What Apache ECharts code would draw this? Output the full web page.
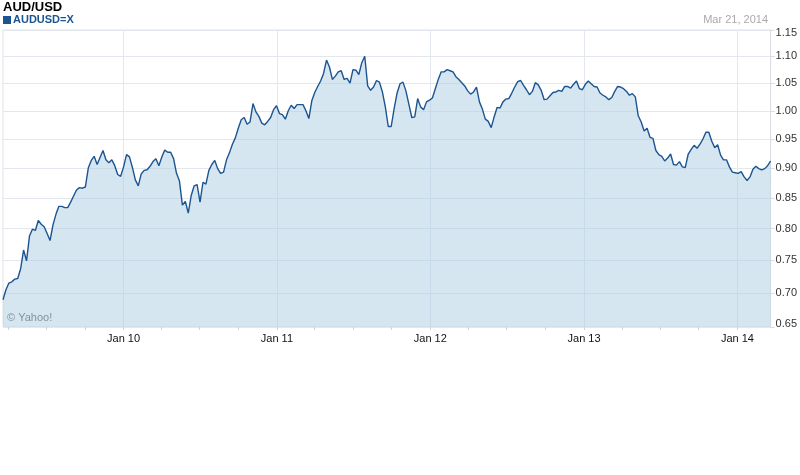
<!DOCTYPE html>
<html><head><meta charset="utf-8">
<script src="https://cdn.jsdelivr.net/npm/echarts@6/dist/echarts.min.js"></script>
<style>html,body{margin:0;padding:0;background:#fff}#c{width:800px;height:475px}</style>
</head><body><div id="c"></div>
<script>
// Weekly closes of AUD/USD, first week = 2009-03-20, last = 2014-03-21
const startYear = 2009, startMonth = 2, startDay = 20; // 20 Mar 2009
const stepDays = 7;
const rate = [
0.690,0.705,0.715,0.717,0.721,0.722,0.737,0.766,0.749,0.788,
0.799,0.797,0.813,0.807,0.803,0.792,0.781,0.806,0.823,0.836,
0.836,0.834,0.834,0.843,0.853,0.863,0.867,0.866,0.868,0.900,
0.913,0.920,0.906,0.918,0.930,0.914,0.909,0.914,0.904,0.889,
0.886,0.902,0.923,0.919,0.901,0.880,0.870,0.890,0.896,0.897,
0.903,0.911,0.916,0.904,0.919,0.931,0.927,0.927,0.916,0.891,
0.878,0.838,0.844,0.825,0.854,0.870,0.872,
0.843,0.876,0.873,0.896,0.906,0.913,0.899,0.891,0.893,0.914,
0.926,0.941,0.952,0.969,0.984,0.988,0.976,0.980,1.013,0.998,
0.990,0.978,0.975,0.981,0.988,1.002,1.009,0.995,0.993,0.985,
1.000,1.010,1.004,1.011,1.011,1.011,1.000,0.986,1.018,1.033,
1.044,1.054,1.068,1.093,1.080,1.057,1.063,1.071,1.073,1.057,
1.059,1.050,1.075,1.074,1.066,1.088,1.100,1.045,1.037,1.043,
1.055,
1.052,1.034,1.007,0.972,0.972,1.004,1.032,1.049,1.052,1.036,
1.012,0.988,0.989,1.022,1.007,1.002,1.016,1.019,1.023,1.040,
1.057,1.071,1.071,1.075,1.073,1.071,1.062,1.057,1.051,1.045,
1.036,1.030,1.034,1.043,1.016,1.003,0.985,0.981,0.970,0.989,
1.006,1.005,1.016,1.021,1.022,1.032,1.043,1.053,1.055,1.046,
1.038,1.029,1.035,1.051,1.047,1.037,1.020,1.021,1.027,1.033,
1.034,1.037,1.035,1.044,
1.044,1.041,1.048,1.054,1.040,1.038,1.048,1.054,1.049,1.044,
1.043,1.032,1.028,1.025,1.020,1.024,1.035,1.044,1.043,1.040,
1.035,1.028,1.031,1.025,0.991,0.980,0.964,0.969,0.953,0.951,
0.930,0.923,0.920,0.912,0.917,0.924,0.906,0.905,0.911,0.902,
0.901,0.924,0.932,0.939,0.934,0.941,0.950,0.962,0.962,0.946,
0.935,0.940,0.922,0.914,0.914,0.902,0.893,0.892,0.891,0.894,
0.885,0.879,0.885,0.898,0.903,0.899,0.897,0.899,0.904,0.912
];
const labelYears = [2010, 2011, 2012, 2013, 2014];
const yTicks = [0.65, 0.70, 0.75, 0.80, 0.85, 0.90, 0.95, 1.00, 1.05, 1.10, 1.15];
const titleText = 'AUD/USD';
const seriesName = 'AUDUSD=X';
const dateText = 'Mar 21, 2014';
const creditText = '\u00A9 Yahoo!';

// The reference price axis is compressed towards the top (square-root-like spacing)
const fwd = v => Math.sqrt(v);
const inv = s => s * s;

const data = rate.map((v, i) => [new Date(startYear, startMonth, startDay + i * stepDays).getTime(), fwd(v)]);
const xMin = data[0][0], xMax = data[data.length - 1][0];
const janTicks = labelYears.map(y => new Date(y, 0, 1).getTime());
const quarterTicks = [];
for (let y = 2009; y <= 2014; y++) for (let m = 0; m < 12; m += 3) {
  const t = new Date(y, m, 1).getTime();
  if (t >= xMin && t <= xMax) quarterTicks.push(t);
}
const yTickPos = yTicks.map(fwd);
const FONT = '"Liberation Sans", Arial, sans-serif';
const labelStyle = {color: '#333', fontFamily: FONT, fontSize: 11};
const topLabel = yTicks[yTicks.length - 1].toFixed(2);
const bottomLabel = yTicks[0].toFixed(2);

const chart = echarts.init(document.getElementById('c'), null, {renderer: 'canvas'});
chart.setOption({
  animation: false,
  backgroundColor: '#ffffff',
  grid: {left: 3, right: 28, top: 30, bottom: 148, show: true, borderColor: '#dde1e7', borderWidth: 1},
  xAxis: [{
    type: 'value', min: xMin, max: xMax,
    axisLine: {show: false},
    axisTick: {show: true, length: 3, lineStyle: {color: '#cfd3d8'}, customValues: quarterTicks},
    axisLabel: {customValues: janTicks, color: '#111', fontFamily: FONT, fontSize: 11, margin: 6,
      formatter: v => 'Jan ' + String(new Date(v).getFullYear()).slice(2)},
    splitLine: {show: false}
  }, {
    type: 'value', min: xMin, max: xMax, position: 'bottom',
    axisLine: {show: false},
    axisTick: {show: false, customValues: janTicks},
    axisLabel: {show: false, customValues: janTicks},
    splitLine: {show: true, lineStyle: {color: '#e3e7ee', width: 1}}
  }],
  yAxis: {
    type: 'value', position: 'right', min: fwd(yTicks[0]), max: fwd(yTicks[yTicks.length - 1]),
    axisLine: {show: true, lineStyle: {color: '#d9dde2'}},
    axisTick: {show: true, length: 4, lineStyle: {color: '#d9dde2'}, customValues: yTickPos},
    axisLabel: Object.assign({customValues: yTickPos, margin: 5,
      formatter: s => {
        const t = inv(s).toFixed(2);
        if (t === topLabel) return '{t|' + t + '}';
        if (t === bottomLabel) return '{b|' + t + '}';
        return t;
      },
      rich: {
        t: Object.assign({padding: [6, 0, 0, 0]}, labelStyle),
        b: Object.assign({padding: [0, 0, 6, 0]}, labelStyle)
      }}, labelStyle),
    splitLine: {show: true, lineStyle: {color: '#e3e7ee', width: 1}}
  },
  series: [{
    type: 'line', name: seriesName, data: data, xAxisIndex: 0,
    showSymbol: false, symbol: 'none',
    lineStyle: {color: '#1b5490', width: 1.4},
    areaStyle: {color: 'rgb(173,205,227)', opacity: 0.5, origin: 'start'}
  }],
  graphic: [
    {type: 'text', left: 3, top: 1, style: {text: titleText, fill: '#000', font: 'bold 13px ' + FONT}},
    {type: 'rect', left: 3, top: 16, shape: {width: 8, height: 8}, style: {fill: '#1b5490'}},
    {type: 'text', left: 13, top: 14, style: {text: seriesName, fill: '#1b5490', font: 'bold 11px ' + FONT}},
    {type: 'text', right: 32, top: 14, style: {text: dateText, fill: '#aaaaaa', font: '11px ' + FONT}},
    {type: 'text', left: 7, top: 312, style: {text: creditText, fill: '#555', font: '11px ' + FONT}}
  ]
});
</script></body></html>
